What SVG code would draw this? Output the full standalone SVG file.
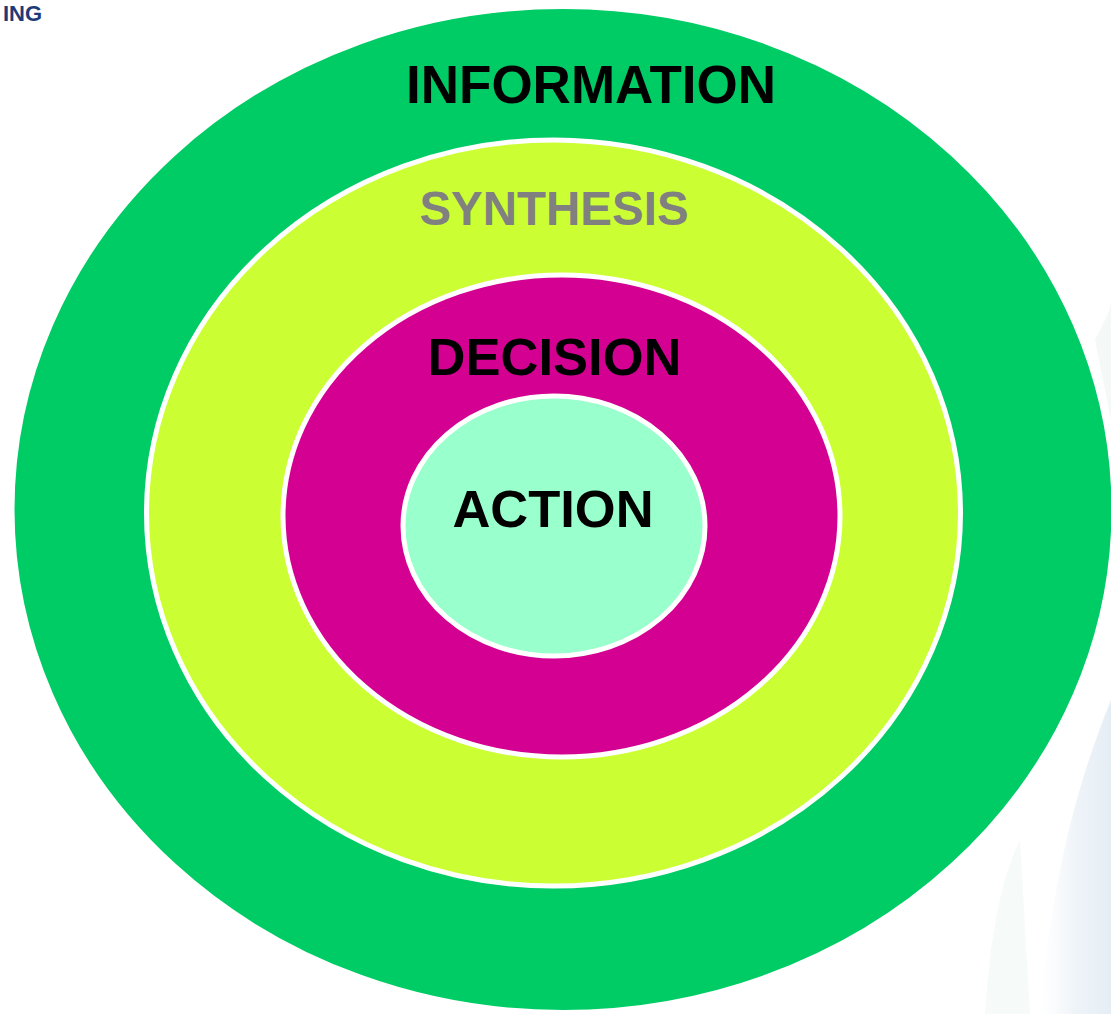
<svg xmlns="http://www.w3.org/2000/svg" width="1111" height="1014" viewBox="0 0 1111 1014">
  <style>
    .ring { stroke: #ffffff; stroke-width: 5; }
    .lbl { font-family: "Liberation Sans", Arial, sans-serif; font-weight: bold; text-anchor: middle; }
  </style>
  <defs>
    <linearGradient id="wash" x1="0" y1="0" x2="1" y2="0">
      <stop offset="0" stop-color="#eef4f8" stop-opacity="0"/>
      <stop offset="0.5" stop-color="#e3ecf4" stop-opacity="0.6"/>
      <stop offset="1" stop-color="#dfe9f2" stop-opacity="0.8"/>
    </linearGradient>
  </defs>
  <rect x="0" y="0" width="1111" height="1014" fill="#ffffff"/>
  <g id="background">
    <path d="M1040,1014 C1050,900 1070,800 1111,700 L1111,1014 Z" fill="url(#wash)"/>
    <path d="M985,1014 C990,940 1000,880 1020,840 L1030,1014 Z" fill="#eef6f2" opacity="0.5"/>
    <path d="M1095,340 C1105,320 1111,310 1111,300 L1111,420 Z" fill="#eaf4ef" opacity="0.5"/>
  </g>
  <text x="3" y="21" font-family="'Liberation Sans', Arial, sans-serif" font-weight="bold" font-size="22" fill="#1f3a78">ING</text>
  <g id="information">
    <ellipse class="ring" cx="563" cy="509.5" rx="551" ry="503" fill="#00cc66"/>
    <text class="lbl" x="591" y="103" font-size="53" fill="#000000">INFORMATION</text>
  </g>
  <g id="synthesis">
    <ellipse class="ring" cx="553.5" cy="513" rx="407" ry="373" fill="#ccff33"/>
    <text class="lbl" x="554" y="225" font-size="47.5" fill="#808080">SYNTHESIS</text>
  </g>
  <g id="decision">
    <ellipse class="ring" cx="561.5" cy="516" rx="278.5" ry="241" fill="#d40092"/>
    <text class="lbl" x="554.5" y="375" font-size="52.5" fill="#000000">DECISION</text>
  </g>
  <g id="action">
    <ellipse class="ring" cx="554" cy="526" rx="151" ry="130" fill="#99ffcc"/>
    <text class="lbl" x="553" y="527" font-size="52.5" fill="#000000">ACTION</text>
  </g>
  <g id="connectors"/>
</svg>
